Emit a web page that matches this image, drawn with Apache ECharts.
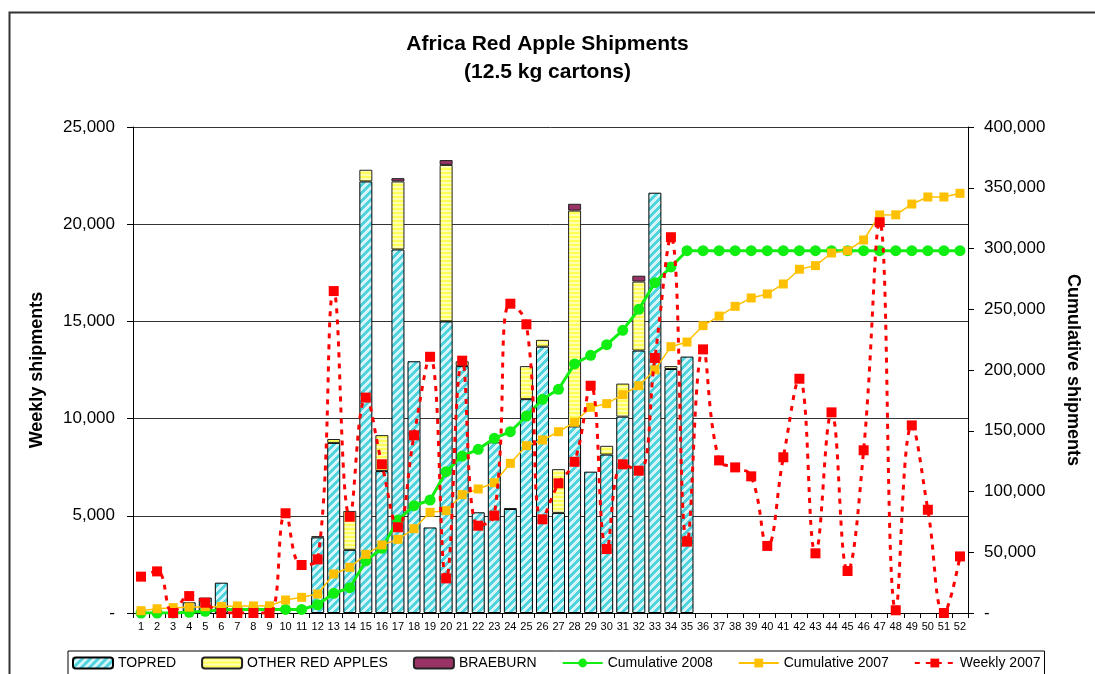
<!DOCTYPE html>
<html>
<head>
<meta charset="utf-8">
<script src="https://cdn.jsdelivr.net/npm/echarts@6/dist/echarts.min.js"></script>
<style>
  html, body { margin: 0; padding: 0; background: #fff; }
  #chart-container { width: 1095px; height: 674px; }
</style>
</head>
<body>
<div id="chart-container"></div>
<script>
var weeks = ["1","2","3","4","5","6","7","8","9","10","11","12","13","14","15","16","17","18","19","20","21","22","23","24","25","26","27","28","29","30","31","32","33","34","35","36","37","38","39","40","41","42","43","44","45","46","47","48","49","50","51","52"];

var topred = [null, null, null, 550, 790, 1560, null, null, null, null, null, 3890,
  8750, 3250, 22200, 7300, 18700, 12950, 4400, 15000, 12700, 5180, 8780, 5350,
  11000, 13700, 5150, 9600, 7270, 8150, 10100, 13500, 21620, 12550, 13190];
var otherRed = [null, null, null, null, null, null, null, null, null, null, null, 60,
  200, 2000, 600, 1850, 3500, null, null, 8050, 250, null, null, 50,
  1700, 350, 2250, 11100, null, 450, 1700, 3550, null, 150, null];
var braeburn = [null, null, null, null, null, null, null, null, null, null, null, null,
  null, null, null, null, 170, null, null, 250, null, null, null, null,
  null, null, null, 350, null, null, null, 300, null, null, null];

var cum2008 = [0, 0, 0, 550, 1340, 2900, 2900, 2900, 2900, 2900, 2900, 6800,
  16200, 20800, 43000, 53200, 76500, 88300, 93000, 116300, 129200, 134700, 143800, 149200,
  162100, 175900, 184100, 205000, 212100, 220800, 232700, 249900, 271900, 284800, 298200, 298200,
  298200, 298200, 298200, 298200, 298200, 298200, 298200, 298200, 298200, 298200, 298200, 298200,
  298200, 298200, 298200, 298200];
var cum2007 = [1900, 3500, 4400, 4800, 5200, 5400, 5800, 5800, 5900, 10700, 12900, 15600,
  32100, 37600, 48300, 56000, 60600, 69400, 82900, 84200, 97400, 102100, 107200, 123200,
  137700, 142400, 149200, 157000, 169300, 172300, 179700, 187100, 200200, 219200, 223000, 236500,
  244400, 252400, 259300, 262600, 270800, 282900, 285900, 296300, 298200, 307000, 327600, 327700,
  336600, 342400, 342400, 345400];
var weekly2007 = [1870, 2140, 0, 870, 530, 0, 0, 0, 0, 5130, 2470, 2760,
  16560, 4950, 11080, 7650, 4410, 9140, 13180, 1780, 12980, 4490, 5010, 15910,
  14850, 4820, 6670, 7780, 11690, 3290, 7650, 7320, 13120, 19330, 3670, 13560,
  7850, 7490, 7030, 3450, 8010, 12050, 3070, 10320, 2160, 8370, 20100, 140,
  9650, 5310, 0, 2910];

// hatch fills like the excel patterns
function makePattern(size, fn) {
  var c = document.createElement("canvas");
  c.width = size;
  c.height = size;
  var ctx = c.getContext("2d");
  for (var x = 0; x < size; x++) {
    for (var y = 0; y < size; y++) {
      ctx.fillStyle = fn(x, y);
      ctx.fillRect(x, y, 1, 1);
    }
  }
  return { image: c, repeat: "repeat" };
}
var cyanHatch = makePattern(8, function (x, y) {
  return (x + y) % 8 < 4 ? "#4fd3df" : "#d6f5f8";
});
var yellowHatch = makePattern(4, function (x, y) {
  return y % 4 < 2 ? "#ffff55" : "#ffffb4";
});

function fmt(v) {
  if (v === 0) return "-";
  return v.toString().replace(/\B(?=(\d{3})+(?!\d))/g, ",");
}

var FONT = "Arial, 'Liberation Sans', sans-serif";

var dom = document.getElementById("chart-container");
var myChart = echarts.init(dom, null, { renderer: "canvas" });

var option = {
  animation: false,
  textStyle: { fontFamily: FONT, color: "#000" },
  title: {
    text: "Africa Red Apple Shipments\n(12.5 kg cartons)",
    left: "center",
    top: 25,
    textStyle: { fontFamily: FONT, fontSize: 21, fontWeight: "bold", lineHeight: 28, color: "#000" },
  },
  graphic: [
    {
      type: "rect",
      left: 7,
      top: 10,
      shape: { width: 1200, height: 800 },
      style: { fill: "none", stroke: "#333", lineWidth: 2 },
      silent: true,
    },
  ],
  legend: {
    left: 68,
    bottom: -4,
    itemWidth: 40,
    itemHeight: 11,
    itemGap: 25,
    padding: [5, 4, 8, 4],
    borderColor: "#000",
    borderWidth: 1,
    textStyle: { fontFamily: FONT, fontSize: 14, color: "#000" },
    data: ["TOPRED", "OTHER RED APPLES", "BRAEBURN", "Cumulative 2008", "Cumulative 2007", "Weekly 2007"],
  },
  grid: { left: 133, right: 127, top: 127, bottom: 61 },
  xAxis: {
    type: "category",
    data: weeks,
    axisLine: { lineStyle: { color: "#000", width: 1 } },
    axisTick: { show: true, length: 5, lineStyle: { color: "#000" } },
    axisLabel: { interval: 0, fontSize: 11, color: "#000", margin: 8 },
  },
  yAxis: [
    {
      type: "value",
      min: 0,
      max: 25000,
      interval: 5000,
      name: "Weekly shipments",
      nameLocation: "middle",
      nameGap: 87,
      nameTextStyle: { fontFamily: FONT, fontSize: 18, fontWeight: "bold", color: "#000" },
      axisLine: { show: true, lineStyle: { color: "#000" } },
      axisTick: { show: true, length: 6, lineStyle: { color: "#000" } },
      axisLabel: { fontSize: 17, color: "#000", margin: 18, formatter: fmt },
      splitLine: { show: true, lineStyle: { color: "#333", width: 1 } },
    },
    {
      type: "value",
      min: 0,
      max: 400000,
      interval: 50000,
      name: "Cumulative shipments",
      nameLocation: "middle",
      nameGap: 96,
      nameRotate: -90,
      nameTextStyle: { fontFamily: FONT, fontSize: 18, fontWeight: "bold", color: "#000" },
      axisLine: { show: true, lineStyle: { color: "#000" } },
      axisTick: { show: true, length: 6, lineStyle: { color: "#000" } },
      axisLabel: { fontSize: 17, color: "#000", margin: 16, formatter: fmt },
      splitLine: { show: false },
    },
  ],
  series: [
    {
      name: "TOPRED",
      type: "bar",
      stack: "w",
      barWidth: 13,
      data: topred,
      itemStyle: { color: cyanHatch, borderColor: "#000", borderWidth: 1 },
    },
    {
      name: "OTHER RED APPLES",
      type: "bar",
      stack: "w",
      data: otherRed,
      itemStyle: { color: yellowHatch, borderColor: "#222", borderWidth: 1 },
    },
    {
      name: "BRAEBURN",
      type: "bar",
      stack: "w",
      data: braeburn,
      itemStyle: { color: "#993366", borderColor: "#222", borderWidth: 1 },
    },
    {
      name: "Cumulative 2008",
      type: "line",
      yAxisIndex: 1,
      data: cum2008,
      symbol: "circle",
      symbolSize: 11,
      z: 5,
      lineStyle: { color: "#11ee11", width: 3 },
      itemStyle: { color: "#11ee11" },
    },
    {
      name: "Cumulative 2007",
      type: "line",
      yAxisIndex: 1,
      data: cum2007,
      symbol: "rect",
      symbolSize: 9,
      z: 6,
      lineStyle: { color: "#ffc000", width: 1.5 },
      itemStyle: { color: "#ffc000" },
    },
    {
      name: "Weekly 2007",
      type: "line",
      data: weekly2007,
      smooth: 0.45,
      symbol: "rect",
      symbolSize: 10,
      z: 7,
      lineStyle: { color: "#ff0000", width: 3, type: [5, 6] },
      itemStyle: { color: "#ff0000" },
    },
  ],
};

myChart.setOption(option);
window.addEventListener("resize", myChart.resize);
</script>
</body>
</html>
